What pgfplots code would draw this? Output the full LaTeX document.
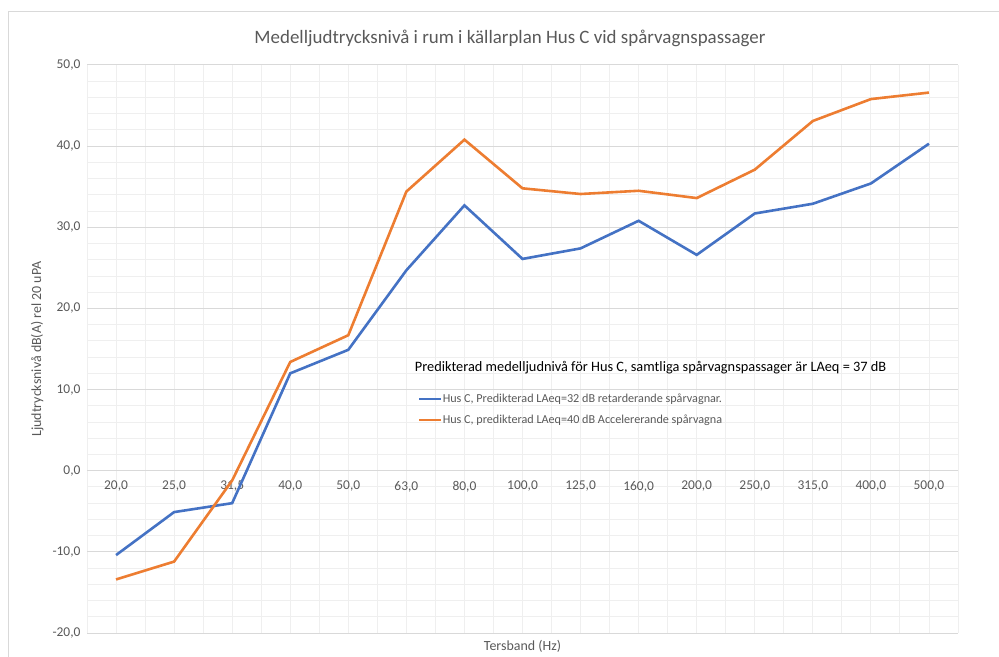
\documentclass[border=0pt]{standalone}
\usepackage{pgfplots}
\pgfplotsset{compat=1.18}
\usepackage{fontspec}
\setmainfont{Carlito}
\definecolor{cblue}{HTML}{4472C4}
\definecolor{corange}{HTML}{ED7D31}
\definecolor{tgray}{HTML}{595959}
\definecolor{majgrid}{HTML}{D9D9D9}
\definecolor{mingrid}{HTML}{EFEFEF}
\begin{document}
\begin{tikzpicture}
\path[use as bounding box] (0bp,0bp) rectangle (999bp,657bp);
\draw[majgrid, line width=1bp] (8bp,0bp) -- (8bp,645bp) -- (999bp,645bp);
\node[font=\fontsize{19}{21}\selectfont, text=tgray] at (510bp,619bp) {Medelljudtrycksnivå i rum i källarplan Hus C vid spårvagnspassager};
\begin{axis}[
  at={(87bp,24bp)}, anchor=south west,
  scale only axis, width=871bp, height=568bp,
  xmin=-0.5, xmax=14.5, ymin=-20, ymax=50,
  axis x line=middle, axis y line=left,
  x axis line style={draw=majgrid, line width=1bp, -},
  y axis line style={draw=none, -},
  xtick={0,...,14},
  xticklabels={20{,}0,25{,}0,31{,}5,40{,}0,50{,}0,63{,}0,80{,}0,100{,}0,125{,}0,160{,}0,200{,}0,250{,}0,315{,}0,400{,}0,500{,}0},
  minor xtick={-0.5,0.5,...,14.5},
  ytick={-20,-10,...,50},
  minor ytick={-18,-16,...,48},
  major tick length=0pt, minor tick length=0pt,
  xmajorgrids, xminorgrids, ymajorgrids, yminorgrids,
  x grid style={mingrid, line width=0.9bp},
  minor x grid style={mingrid, line width=0.9bp},
  y grid style={majgrid, line width=1bp},
  minor y grid style={mingrid, line width=0.9bp},
  tick label style={font=\fontsize{13.5}{15}\selectfont, text=tgray},
  xticklabel style={yshift=-7bp},
  yticklabel style={xshift=-3bp},
  yticklabel={\pgfmathprintnumber[fixed,fixed zerofill,precision=1,use comma,assume math mode=true]{\tick}},
  xlabel={Tersband (Hz)},
  xlabel style={font=\fontsize{14}{16}\selectfont, text=tgray, at={(rel axis cs:0.5,0)}, anchor=north, yshift=-4bp},
  ylabel={Ljudtrycksnivå dB(A) rel 20 uPA},
  ylabel style={font=\fontsize{14}{16}\selectfont, text=tgray, at={(rel axis cs:0,0.5)}, yshift=40bp, anchor=south},
  legend style={at={(rel axis cs:0.38,0.425)}, anchor=north west, draw=none, fill=none,
    font=\fontsize{12.2}{14}\selectfont, text=tgray, row sep=7bp, inner sep=0pt,
    /tikz/every even column/.append style={column sep=0pt}},
  legend cell align=left,
  legend image code/.code={\draw[#1, line width=2.6bp] (0bp,0bp) -- (22bp,0bp);},
  clip=false,
]
\addplot[cblue, line width=2.6bp] coordinates {
(0,-10.4) (1,-5.1) (2,-4.0) (3,12.0) (4,14.9) (5,24.7) (6,32.7) (7,26.1) (8,27.4) (9,30.8) (10,26.6) (11,31.7) (12,32.9) (13,35.4) (14,40.3)};
\addlegendentry{\hspace{-2bp}Hus C, Predikterad LAeq=32 dB retarderande spårvagnar.}
\addplot[corange, line width=2.6bp] coordinates {
(0,-13.4) (1,-11.2) (2,-1.2) (3,13.4) (4,16.7) (5,34.4) (6,40.8) (7,34.8) (8,34.1) (9,34.5) (10,33.6) (11,37.1) (12,43.1) (13,45.8) (14,46.6)};
\addlegendentry{\hspace{-2bp}Hus C, predikterad LAeq=40 dB Accelererande spårvagna}
\node[font=\fontsize{14.4}{16}\selectfont, text=black, anchor=west] at (rel axis cs:0.3724,0.467) {Predikterad medelljudnivå för Hus C, samtliga spårvagnspassager är LAeq = 37 dB};
\end{axis}
\end{tikzpicture}
\end{document}
